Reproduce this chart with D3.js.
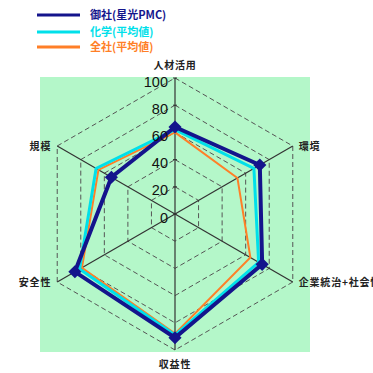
<!DOCTYPE html>
<html><head><meta charset="utf-8">
<script src="https://cdn.jsdelivr.net/npm/d3@7"></script>
<style>body{margin:0;background:#fff}svg{display:block}</style>
</head><body>
<script>
const categories = ["人材活用","環境","企業統治+社会性","収益性","安全性","規模"];
const seriesNames = ["御社(星光PMC)","化学(平均値)","全社(平均値)"];
const ourCompany = [64, 72, 74, 91, 85, 54];
const chemicalAvg = [62, 67, 71, 89, 81, 67];
const allAvg = [60, 53, 64, 88, 79, 65];
const tickValues = [0, 20, 40, 60, 80, 100];
const colors = ["#14148c", "#00e0ea", "#ff7f27"];

const W = 373, H = 373, cx = 175, cy = 214, R = 136;
const svg = d3.select("body").append("svg").attr("width", W).attr("height", H);
svg.append("rect").attr("x", 40).attr("y", 77).attr("width", 270).attr("height", 275).attr("fill", "#b4f7c9");

const r = d3.scaleLinear().domain([0, 100]).range([0, R]);
const angle = d3.scalePoint().domain(categories).range([0, 2 * Math.PI * (categories.length - 1) / categories.length]);
const pt = (cat, v) => { const a = angle(cat); return [cx + r(v) * Math.sin(a), cy - r(v) * Math.cos(a)]; };

const g = svg.append("g");
// grid hexagons
tickValues.filter(t => t > 0).forEach(t => {
  g.append("path").attr("d", d3.line()(categories.map(c => pt(c, t))) + "Z")
    .attr("fill", "none").attr("stroke", "#555").attr("stroke-width", 1).attr("stroke-dasharray", "5,3");
});
// axes
categories.forEach(c => {
  const p = pt(c, 100);
  g.append("line").attr("x1", cx).attr("y1", cy).attr("x2", p[0]).attr("y2", p[1])
    .attr("stroke", "#333").attr("stroke-width", 1.2);
});
// tick marks on vertical axis
tickValues.forEach(t => {
  const y = cy - r(t);
  g.append("line").attr("x1", cx - 2).attr("x2", cx + 2).attr("y1", y).attr("y2", y).attr("stroke", "#333");
});

// series
const series = [allAvg, chemicalAvg, ourCompany];
const sColors = [colors[2], colors[1], colors[0]];
const widths = [2, 3, 4];
series.forEach((vals, i) => {
  g.append("path").attr("d", d3.line()(categories.map((c, j) => pt(c, vals[j]))) + "Z")
    .attr("fill", "none").attr("stroke", sColors[i]).attr("stroke-width", widths[i]).attr("stroke-linejoin", "miter");
});
// markers for our company
categories.forEach((c, j) => {
  const p = pt(c, ourCompany[j]);
  g.append("path").attr("d", d3.symbol(d3.symbolDiamond2, 110)()).attr("transform", `translate(${p[0]},${p[1]})`)
    .attr("fill", colors[0]);
});

// tick labels
tickValues.forEach(t => {
  svg.append("text").attr("x", cx - 7).attr("y", cy - r(t) + 8.5).attr("text-anchor", "end")
    .attr("font-family", "Liberation Sans, Arial, sans-serif").attr("font-size", 14.5).attr("fill", "#111").text(t);
});

// axis labels
const lf = "'Noto Sans CJK JP', sans-serif";
categories.forEach(c => {
  const p = pt(c, 100);
  const a = angle(c);
  let x = p[0], y = p[1], anchor = "middle";
  if (Math.abs(Math.sin(a)) < 0.01) {
    if (Math.cos(a) > 0) { y = p[1] - 9; } else { y = p[1] + 18; }
  } else if (Math.sin(a) > 0) { x = p[0] + 6; anchor = "start"; y = p[1] + 4; }
  else { x = p[0] - 6; anchor = "end"; y = p[1] + 4; }
  svg.append("text").attr("x", x).attr("y", y).attr("text-anchor", anchor)
    .attr("font-family", lf).attr("font-size", 10).attr("font-weight", "bold").attr("letter-spacing", 0.8)
    .attr("fill", "#222").text(c);
});

// legend
const ly = [15, 32, 47];
seriesNames.forEach((n, i) => {
  svg.append("line").attr("x1", 37).attr("x2", 80).attr("y1", ly[i]).attr("y2", ly[i])
    .attr("stroke", colors[i]).attr("stroke-width", 3);
  svg.append("text").attr("x", 90).attr("y", ly[i] + 4).attr("font-family", lf).attr("font-size", 11)
    .attr("font-weight", "bold").attr("fill", colors[i]).text(n);
});
</script>
</body></html>
